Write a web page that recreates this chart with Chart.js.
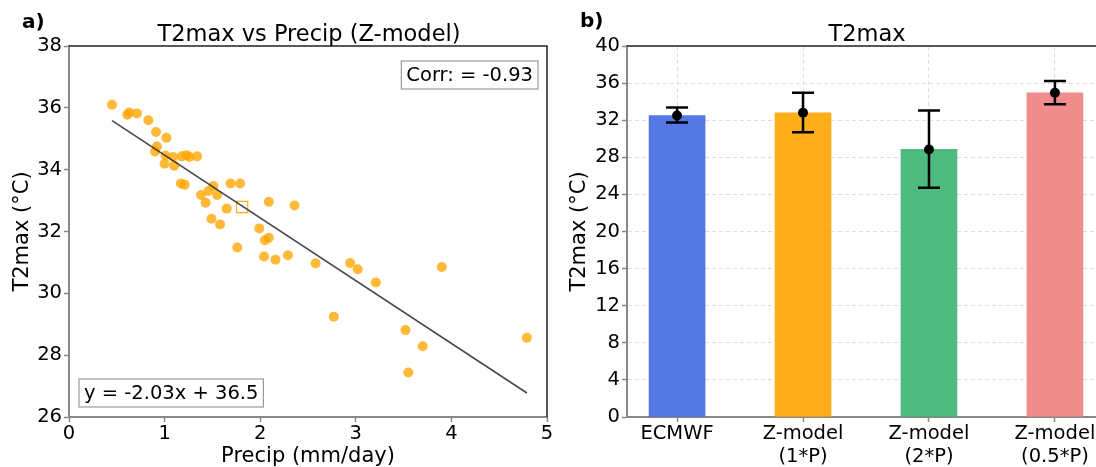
<!DOCTYPE html>
<html>
<head>
<meta charset="utf-8">
<script src="https://cdn.jsdelivr.net/npm/chart.js@4.4.0/dist/chart.umd.min.js"></script>
<style>
  html, body { margin: 0; padding: 0; overflow: hidden; background: #fff; }
  body { width: 1096px; height: 467px; position: relative; }
  canvas { position: absolute; top: 0; }
  #scatter { left: 0; }
  #bars { left: 560px; }
</style>
</head>
<body>
<canvas id="scatter" width="560" height="467"></canvas>
<canvas id="bars" width="560" height="467"></canvas>
<script>
// panel a) - daily values, precip vs T2max
const precip = [0.45, 0.61, 0.63, 0.71, 0.83, 0.91, 1.02, 0.92, 0.90, 1.01, 1.09, 1.00,
  1.10, 1.18, 1.23, 1.26, 1.34, 1.17, 1.21, 1.38, 1.46, 1.51, 1.55, 1.43, 1.65, 1.69,
  1.79, 2.09, 2.36, 1.49, 1.58, 1.99, 2.05, 2.09, 1.76, 2.04, 2.16, 2.29, 2.58, 2.94,
  3.02, 3.21, 3.90, 2.77, 3.52, 3.70, 4.79, 3.55];
const t2max = [36.10, 35.78, 35.85, 35.82, 35.60, 35.22, 35.03, 34.75, 34.59, 34.46, 34.41, 34.19,
  34.13, 34.43, 34.47, 34.41, 34.43, 33.55, 33.51, 33.18, 33.31, 33.47, 33.18, 32.93, 32.74, 33.55,
  33.55, 32.96, 32.84, 32.41, 32.23, 32.10, 31.72, 31.80, 31.48, 31.19, 31.09, 31.23, 30.97, 30.98,
  30.78, 30.35, 30.85, 29.24, 28.81, 28.29, 28.56, 27.44];
const fitSlope = -2.03;
const fitIntercept = 36.5;
const corr = -0.93;

// panel b) - mean T2max per model with spread
const models = [["ECMWF"], ["Z-model", "(1*P)"], ["Z-model", "(2*P)"], ["Z-model", "(0.5*P)"]];
const t2Mean = [32.5, 32.8, 28.85, 34.95];
const errLow = [31.75, 30.7, 24.72, 33.73];
const errHigh = [33.37, 34.96, 33.05, 36.22];
const barColors = ["rgba(65,105,225,0.9)", "rgba(255,165,0,0.9)", "rgba(60,179,113,0.9)", "rgba(240,128,128,0.9)"];

const FONT = "DejaVu Sans";
const tickFont = { family: FONT, size: 19.5 };
const labelFont = { family: FONT, size: 21, lineHeight: 1 };

const fixWidth = (w) => (scale) => { scale.width = w; };
const fixHeight = (h) => (scale) => { scale.height = h; };

// top / right spines, panel letter and title
const panelText = {
  id: "panelText",
  afterDraw(chart, args, opts) {
    const { ctx, chartArea: a } = chart;
    ctx.save();
    ctx.strokeStyle = "#222";
    ctx.lineWidth = 1.5;
    ctx.beginPath();
    ctx.moveTo(a.left, a.top);
    ctx.lineTo(a.right, a.top);
    if (opts.rightSpine) {
      ctx.lineTo(a.right, a.bottom);
    }
    ctx.stroke();
    ctx.fillStyle = "#000";
    ctx.textBaseline = "alphabetic";
    ctx.textAlign = "left";
    ctx.font = `bold 20px ${FONT}`;
    ctx.fillText(opts.tag, opts.tagX, opts.tagY);
    ctx.textAlign = "center";
    ctx.font = `22.5px ${FONT}`;
    ctx.fillText(opts.title, (a.left + a.right) / 2 + 1, 41);
    ctx.restore();
  },
};

function drawBox(ctx, text, x, y, fromRight) {
  const w = ctx.measureText(text).width + 10;
  const h = 28;
  const left = fromRight ? x - w : x;
  const top = fromRight ? y : y - h;
  ctx.fillStyle = "#fff";
  ctx.fillRect(left, top, w, h);
  ctx.strokeStyle = "#999";
  ctx.lineWidth = 1.2;
  ctx.strokeRect(left, top, w, h);
  ctx.fillStyle = "#000";
  ctx.textBaseline = "middle";
  ctx.textAlign = "left";
  ctx.fillText(text, left + 5, top + h / 2 + 1);
}

const statBoxes = {
  id: "statBoxes",
  afterDraw(chart) {
    const { ctx, chartArea: a } = chart;
    ctx.save();
    ctx.font = `19.5px ${FONT}`;
    drawBox(ctx, `Corr: = ${corr.toFixed(2)}`, a.right - 9, a.top + 15, true);
    drawBox(ctx, `y = ${fitSlope.toFixed(2)}x + ${fitIntercept.toFixed(1)}`, a.left + 10, a.bottom - 10, false);
    ctx.restore();
  },
};

const errorBars = {
  id: "errorBars",
  beforeDatasetDraw(chart, args) {
    if (args.index !== 1) return;
    const { ctx, scales: { x, y } } = chart;
    ctx.save();
    ctx.strokeStyle = "#000";
    ctx.lineWidth = 2.5;
    errLow.forEach((lo, i) => {
      const px = x.getPixelForValue(i);
      const top = y.getPixelForValue(errHigh[i]);
      const bot = y.getPixelForValue(lo);
      ctx.beginPath();
      ctx.moveTo(px, top);
      ctx.lineTo(px, bot);
      ctx.moveTo(px - 11, top);
      ctx.lineTo(px + 11, top);
      ctx.moveTo(px - 11, bot);
      ctx.lineTo(px + 11, bot);
      ctx.stroke();
    });
    ctx.restore();
  },
};

const xMin = Math.min(...precip);
const xMax = Math.max(...precip);
const meanX = precip.reduce((s, v) => s + v, 0) / precip.length;
const meanY = t2max.reduce((s, v) => s + v, 0) / t2max.length;

new Chart(document.getElementById("scatter"), {
  type: "scatter",
  data: {
    datasets: [
      {
        type: "line",
        data: [
          { x: xMin, y: fitIntercept + fitSlope * xMin },
          { x: xMax, y: fitIntercept + fitSlope * xMax },
        ],
        borderColor: "rgba(40,40,40,0.85)",
        borderWidth: 1.6,
        pointRadius: 0,
        order: 0,
      },
      {
        data: precip.map((p, i) => ({ x: p, y: t2max[i] })),
        backgroundColor: "rgba(255,165,0,0.78)",
        borderWidth: 0,
        pointRadius: 5,
        order: 1,
      },
      {
        data: [{ x: meanX, y: meanY }],
        pointStyle: "rect",
        pointRadius: 8,
        backgroundColor: "rgba(0,0,0,0)",
        borderColor: "rgba(255,165,0,0.9)",
        borderWidth: 1.2,
        order: 2,
      },
    ],
  },
  options: {
    responsive: false,
    animation: false,
    devicePixelRatio: 1,
    layout: { padding: { top: 46, right: 13, left: 0, bottom: 0 } },
    plugins: {
      legend: { display: false },
      tooltip: { enabled: false },
      panelText: { tag: "a)", tagX: 22, tagY: 28, title: "T2max vs Precip (Z-model)", rightSpine: true },
    },
    scales: {
      x: {
        type: "linear",
        min: 0,
        max: 5,
        afterFit: fixHeight(50),
        ticks: { stepSize: 1, font: tickFont, color: "#000", padding: 0 },
        grid: { drawOnChartArea: false, tickLength: 5, tickColor: "#888", tickWidth: 1.5 },
        border: { color: "#888", width: 2 },
        title: { display: true, text: "Precip (mm/day)", font: labelFont, color: "#000", padding: { top: 0, bottom: 0 } },
      },
      y: {
        min: 26,
        max: 38,
        afterFit: fixWidth(69),
        ticks: { stepSize: 2, font: tickFont, color: "#000", padding: 2 },
        grid: { drawOnChartArea: false, tickLength: 5, tickColor: "#888", tickWidth: 1.5 },
        border: { color: "#888", width: 2 },
        title: { display: true, text: "T2max (°C)", font: labelFont, color: "#000", padding: { top: 12, bottom: 0 } },
      },
    },
  },
  plugins: [panelText, statBoxes],
});

new Chart(document.getElementById("bars"), {
  type: "bar",
  data: {
    datasets: [
      {
        data: t2Mean.map((v, i) => ({ x: i, y: v })),
        backgroundColor: barColors,
        barThickness: 56,
        order: 1,
      },
      {
        type: "scatter",
        data: t2Mean.map((v, i) => ({ x: i, y: v })),
        backgroundColor: "#000",
        borderWidth: 0,
        pointRadius: 5,
        order: 0,
      },
    ],
  },
  options: {
    responsive: false,
    animation: false,
    devicePixelRatio: 1,
    layout: { padding: { top: 46, right: 15, left: 0, bottom: 0 } },
    plugins: {
      legend: { display: false },
      tooltip: { enabled: false },
      panelText: { tag: "b)", tagX: 20, tagY: 27, title: "T2max", rightSpine: false },
    },
    scales: {
      x: {
        type: "linear",
        min: -0.3975,
        max: 3.3975,
        offset: false,
        afterFit: fixHeight(50),
        afterBuildTicks: (scale) => {
          scale.ticks = models.map((_, i) => ({ value: i }));
        },
        ticks: { font: { family: FONT, size: 19.5, lineHeight: 1.2 }, color: "#000", padding: 0,
          callback: (v) => models[v] },
        grid: { offset: false, color: "#dedede", tickLength: 5, tickColor: "#888", tickWidth: 1.5 },
        border: { color: "#888", width: 2, dash: [4, 3] },
      },
      y: {
        min: 0,
        max: 40,
        afterFit: fixWidth(67),
        ticks: { stepSize: 4, font: tickFont, color: "#000", padding: 2 },
        grid: { color: "#dedede", tickLength: 5, tickColor: "#888", tickWidth: 1.5 },
        border: { color: "#888", width: 2, dash: [4, 3] },
        title: { display: true, text: "T2max (°C)", font: labelFont, color: "#000", padding: { top: 9, bottom: 0 } },
      },
    },
  },
  plugins: [panelText, errorBars],
});
</script>
</body>
</html>
